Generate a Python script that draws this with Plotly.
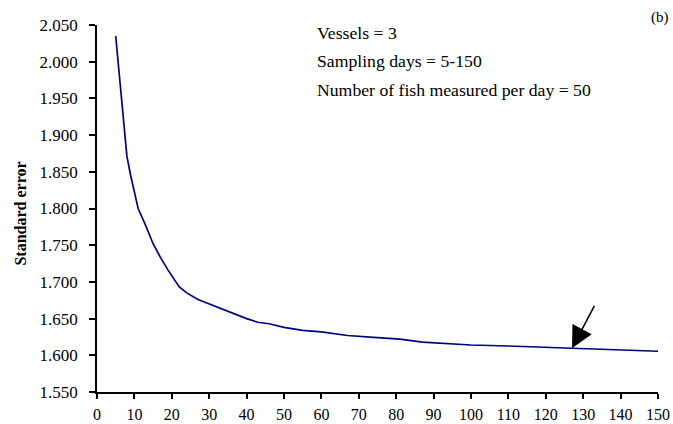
import plotly.graph_objects as go

# Data
days = [5, 6, 7, 8, 9, 10, 11, 13, 15, 17, 19, 22, 24, 27, 30, 33, 36, 40, 43, 46,
        50, 55, 60, 67, 75, 81, 87, 93, 100, 110, 120, 127, 135, 143, 150]
std_error = [2.035, 1.982, 1.923, 1.871, 1.845, 1.822, 1.800, 1.777, 1.752, 1.733,
             1.716, 1.693, 1.685, 1.676, 1.670, 1.664, 1.657, 1.650, 1.645, 1.643,
             1.638, 1.634, 1.632, 1.627, 1.624, 1.622, 1.618, 1.616, 1.614, 1.6127,
             1.611, 1.610, 1.6085, 1.607, 1.6055]

x_ticks = list(range(0, 151, 10))
y_ticks = [1.55, 1.60, 1.65, 1.70, 1.75, 1.80, 1.85, 1.90, 1.95, 2.00, 2.05]

info_lines = ["Vessels = 3", "Sampling days = 5-150", "Number of fish measured per day = 50"]
panel_label = "(b)"
y_title = "Standard error"

# Arrow pointing at the curve (tip and tail in data units)
arrow_tip = (127, 1.6095)
arrow_tail = (133.2, 1.6695)

FONT = "Liberation Serif, Times New Roman, serif"

fig = go.Figure()
fig.add_trace(go.Scatter(
    x=days, y=std_error, mode="lines",
    line=dict(color="#000080", width=1.7),
    showlegend=False, hoverinfo="skip",
))

annotations = []
for i, txt in enumerate(info_lines):
    annotations.append(dict(
        text=txt, xref="paper", yref="paper", x=0.389, y=0.978 - i * 0.077,
        xanchor="left", yanchor="middle", showarrow=False,
        font=dict(family=FONT, size=17.7, color="black"),
    ))
annotations.append(dict(
    text=panel_label, xref="paper", yref="paper", x=1.003, y=1.02,
    xanchor="center", yanchor="middle", showarrow=False,
    font=dict(family=FONT, size=15, color="black"),
))
annotations.append(dict(
    text="<b>" + y_title + "</b>", xref="paper", yref="paper", x=-0.138, y=0.485,
    xanchor="center", yanchor="middle", textangle=-90, showarrow=False,
    font=dict(family=FONT, size=16, color="black"),
))
annotations.append(dict(
    x=arrow_tip[0], y=arrow_tip[1], xref="x", yref="y",
    ax=arrow_tail[0], ay=arrow_tail[1], axref="x", ayref="y",
    showarrow=True, arrowhead=2, arrowsize=2.9, arrowwidth=1.5,
    arrowcolor="black", text="",
))

fig.update_layout(
    width=673, height=424,
    margin=dict(l=97, r=15, t=25, b=32, autoexpand=False),
    paper_bgcolor="white", plot_bgcolor="white",
    font=dict(family=FONT, size=16, color="black"),
    annotations=annotations,
    xaxis=dict(
        range=[0, 150], tickvals=x_ticks, ticktext=[str(v) for v in x_ticks],
        showline=True, linecolor="black", linewidth=1.5,
        ticks="outside", ticklen=5, tickwidth=1.5, tickcolor="black",
        showgrid=False, zeroline=False, ticklabelstandoff=2, automargin=False,
        tickfont=dict(family=FONT, size=16, color="black"),
    ),
    yaxis=dict(
        range=[1.55, 2.05], tickvals=y_ticks, ticktext=[f"{v:.3f}" for v in y_ticks],
        showline=True, linecolor="black", linewidth=1.5,
        ticks="outside", ticklen=6, tickwidth=1.5, tickcolor="black",
        showgrid=False, zeroline=False, ticklabelstandoff=8, automargin=False,
        tickfont=dict(family=FONT, size=17, color="black"),
    ),
)

# Remove the browser's default 8px page margin so the 673x424 figure fits the window exactly
fig.write_html("out.html",
               config={"displayModeBar": False},
               post_script="document.body.style.margin='0';document.body.style.overflow='hidden';")
